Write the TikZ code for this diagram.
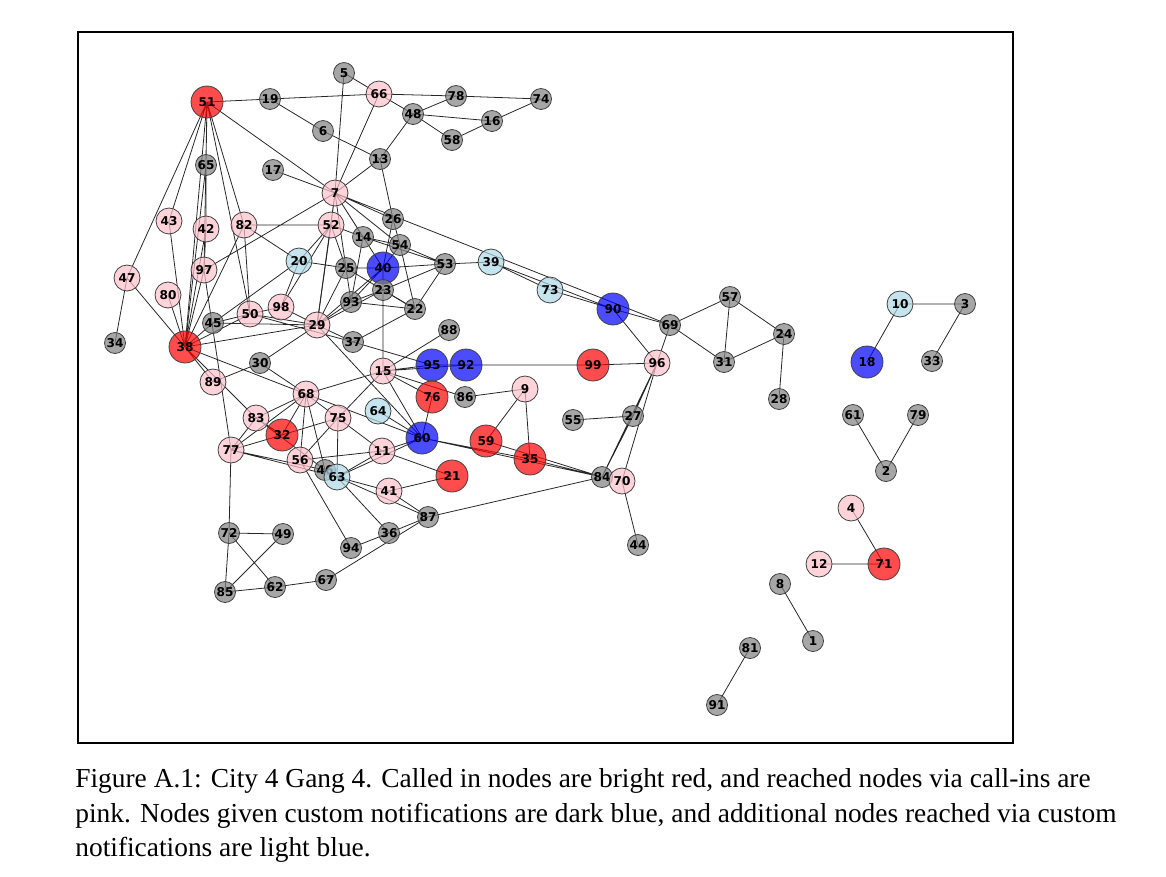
\documentclass[tikz,border=0pt]{standalone}
\usepackage{fontspec}
\setmainfont{Liberation Serif}
\newfontfamily\labfont{DejaVu Sans}
\usetikzlibrary{backgrounds}
\definecolor{grayv}{RGB}{128,128,128}
\definecolor{redv}{RGB}{255,0,0}
\definecolor{pinkv}{RGB}{255,192,203}
\definecolor{bluev}{RGB}{0,0,255}
\definecolor{lbluev}{RGB}{173,216,230}
\tikzset{
  vert/.style={circle,draw=black!75,line width=0.45pt,inner sep=0pt,fill opacity=0.7,text opacity=1,
    font=\labfont\bfseries\fontsize{6.9}{7}\selectfont},
  gv/.style={vert,fill=grayv,minimum size=0.42cm},
  pv/.style={vert,fill=pinkv,minimum size=0.52cm},
  lv/.style={vert,fill=lbluev,minimum size=0.52cm},
  rv/.style={vert,fill=redv,minimum size=0.64cm},
  bv/.style={vert,fill=bluev,minimum size=0.64cm},
  edge/.style={black!85,line width=0.45pt}
}
\begin{document}
\begin{tikzpicture}[x=0.02cm,y=-0.02cm]
\useasboundingbox (0,0) rectangle (1166,876);
\draw[line width=0.8pt] (78,32) rectangle (1013,743);
% vertices
\node[rv] (v51) at (207,102) {51};
\node[gv] (v19) at (270,99) {19};
\node[gv] (v5) at (344,73) {5};
\node[pv] (v66) at (379,94) {66};
\node[gv] (v78) at (456,96) {78};
\node[gv] (v74) at (541,99) {74};
\node[gv] (v48) at (413,114) {48};
\node[gv] (v16) at (492,121) {16};
\node[gv] (v58) at (452,140) {58};
\node[gv] (v6) at (323,131) {6};
\node[gv] (v13) at (380,159) {13};
\node[gv] (v17) at (273,170) {17};
\node[gv] (v65) at (206,165) {65};
\node[pv] (v7) at (335,193) {7};
\node[pv] (v43) at (169,221) {43};
\node[pv] (v42) at (206,229) {42};
\node[pv] (v82) at (244,225) {82};
\node[pv] (v52) at (331,225) {52};
\node[gv] (v26) at (393,219) {26};
\node[gv] (v14) at (363,237) {14};
\node[gv] (v54) at (400,245) {54};
\node[lv] (v20) at (299,261) {20};
\node[gv] (v25) at (346,268) {25};
\node[bv] (v40) at (383,268) {40};
\node[gv] (v53) at (445,264) {53};
\node[lv] (v39) at (491,262) {39};
\node[gv] (v23) at (383,290) {23};
\node[gv] (v93) at (351,302) {93};
\node[gv] (v22) at (415,309) {22};
\node[pv] (v97) at (204,270) {97};
\node[pv] (v47) at (127,278) {47};
\node[pv] (v80) at (168,295) {80};
\node[gv] (v45) at (213,323) {45};
\node[pv] (v50) at (250,314) {50};
\node[pv] (v98) at (281,307) {98};
\node[pv] (v29) at (317,325) {29};
\node[gv] (v37) at (353,342) {37};
\node[gv] (v88) at (449,330) {88};
\node[lv] (v73) at (550,290) {73};
\node[bv] (v90) at (613,309) {90};
\node[gv] (v69) at (670,325) {69};
\node[gv] (v57) at (730,297) {57};
\node[gv] (v24) at (784,334) {24};
\node[gv] (v31) at (724,362) {31};
\node[gv] (v28) at (779,399) {28};
\node[gv] (v34) at (115,343) {34};
\node[rv] (v38) at (185,347) {38};
\node[gv] (v30) at (260,363) {30};
\node[pv] (v89) at (213,382) {89};
\node[pv] (v15) at (383,371) {15};
\node[bv] (v95) at (432,365) {95};
\node[bv] (v92) at (466,365) {92};
\node[rv] (v99) at (593,365) {99};
\node[pv] (v96) at (657,363) {96};
\node[gv] (v86) at (465,397) {86};
\node[rv] (v76) at (432,397) {76};
\node[pv] (v9) at (525,389) {9};
\node[pv] (v68) at (306,394) {68};
\node[pv] (v83) at (256,418) {83};
\node[pv] (v75) at (338,418) {75};
\node[lv] (v64) at (378,411) {64};
\node[rv] (v32) at (282,435) {32};
\node[bv] (v60) at (422,438) {60};
\node[rv] (v59) at (486,441) {59};
\node[gv] (v55) at (573,420) {55};
\node[gv] (v27) at (633,416) {27};
\node[pv] (v77) at (231,450) {77};
\node[pv] (v56) at (300,460) {56};
\node[pv] (v11) at (382,451) {11};
\node[rv] (v35) at (530,459) {35};
\node[gv] (v46) at (325,470) {46};
\node[lv] (v63) at (337,477) {63};
\node[rv] (v21) at (452,476) {21};
\node[gv] (v84) at (602,477) {84};
\node[pv] (v70) at (622,481) {70};
\node[pv] (v41) at (389,491) {41};
\node[gv] (v87) at (428,517) {87};
\node[gv] (v36) at (389,533) {36};
\node[gv] (v94) at (351,548) {94};
\node[gv] (v72) at (229,533) {72};
\node[gv] (v49) at (283,534) {49};
\node[gv] (v44) at (638,545) {44};
\node[gv] (v67) at (326,580) {67};
\node[gv] (v62) at (275,587) {62};
\node[gv] (v85) at (225,592) {85};
\node[lv] (v10) at (900,304) {10};
\node[gv] (v3) at (965,304) {3};
\node[bv] (v18) at (867,362) {18};
\node[gv] (v33) at (932,361) {33};
\node[gv] (v61) at (853,415) {61};
\node[gv] (v79) at (918,415) {79};
\node[gv] (v2) at (886,471) {2};
\node[pv] (v4) at (851,508) {4};
\node[pv] (v12) at (819,564) {12};
\node[rv] (v71) at (884,564) {71};
\node[gv] (v8) at (780,584) {8};
\node[gv] (v1) at (813,641) {1};
\node[gv] (v81) at (750,648) {81};
\node[gv] (v91) at (717,705) {91};
% edges
\begin{pgfonlayer}{background}
\draw[edge] (v51.center)--(v19.center) (v51.center)--(v7.center) (v51.center)--(v65.center) (v51.center)--(v47.center) (v51.center)--(v43.center) (v51.center)--(v38.center) (v51.center)--(v97.center) (v51.center)--(v82.center) (v51.center)--(v50.center);
\draw[edge] (v19.center)--(v66.center) (v19.center)--(v6.center) (v66.center)--(v78.center) (v66.center)--(v5.center) (v66.center)--(v48.center) (v66.center)--(v7.center) (v5.center)--(v7.center);
\draw[edge] (v78.center)--(v74.center) (v78.center)--(v48.center) (v74.center)--(v16.center) (v48.center)--(v16.center) (v48.center)--(v58.center) (v48.center)--(v13.center) (v58.center)--(v16.center);
\draw[edge] (v6.center)--(v13.center) (v13.center)--(v7.center) (v13.center)--(v26.center) (v17.center)--(v7.center);
\draw[edge] (v65.center)--(v42.center) (v65.center)--(v38.center) (v42.center)--(v97.center) (v42.center)--(v38.center) (v43.center)--(v38.center) (v47.center)--(v38.center) (v47.center)--(v34.center) (v80.center)--(v38.center);
\draw[edge] (v97.center)--(v38.center) (v97.center)--(v7.center) (v97.center)--(v77.center) (v82.center)--(v52.center) (v82.center)--(v20.center) (v82.center)--(v38.center) (v82.center)--(v50.center);
\draw[edge] (v7.center)--(v52.center) (v7.center)--(v26.center) (v7.center)--(v14.center) (v7.center)--(v25.center) (v7.center)--(v40.center) (v7.center)--(v29.center) (v7.center)--(v69.center) (v7.center)--(v54.center);
\draw[edge] (v52.center)--(v20.center) (v52.center)--(v98.center) (v52.center)--(v29.center) (v52.center)--(v25.center) (v52.center)--(v14.center);
\draw[edge] (v26.center)--(v54.center) (v26.center)--(v40.center) (v14.center)--(v54.center) (v14.center)--(v53.center) (v14.center)--(v93.center) (v54.center)--(v53.center) (v54.center)--(v22.center) (v54.center)--(v40.center);
\draw[edge] (v20.center)--(v25.center) (v20.center)--(v98.center) (v45.center)--(v20.center) (v25.center)--(v40.center) (v25.center)--(v93.center) (v25.center)--(v29.center) (v25.center)--(v22.center);
\draw[edge] (v40.center)--(v23.center) (v40.center)--(v53.center) (v40.center)--(v93.center) (v29.center)--(v40.center) (v23.center)--(v53.center) (v23.center)--(v22.center) (v23.center)--(v15.center) (v23.center)--(v93.center) (v29.center)--(v23.center);
\draw[edge] (v93.center)--(v22.center) (v29.center)--(v93.center) (v53.center)--(v22.center) (v53.center)--(v39.center) (v39.center)--(v73.center) (v39.center)--(v90.center) (v73.center)--(v90.center);
\draw[edge] (v90.center)--(v69.center) (v90.center)--(v96.center) (v69.center)--(v96.center) (v69.center)--(v57.center) (v69.center)--(v31.center) (v57.center)--(v31.center) (v57.center)--(v24.center) (v31.center)--(v24.center) (v24.center)--(v28.center);
\draw[edge] (v10.center)--(v3.center) (v10.center)--(v18.center) (v3.center)--(v33.center) (v61.center)--(v2.center) (v79.center)--(v2.center) (v4.center)--(v71.center) (v12.center)--(v71.center) (v8.center)--(v1.center) (v81.center)--(v91.center);
\draw[edge] (v45.center)--(v50.center) (v45.center)--(v29.center) (v38.center)--(v45.center) (v50.center)--(v98.center) (v50.center)--(v29.center) (v50.center)--(v37.center) (v38.center)--(v50.center) (v98.center)--(v29.center);
\draw[edge] (v38.center)--(v29.center) (v38.center)--(v68.center) (v38.center)--(v89.center) (v38.center)--(v83.center) (v89.center)--(v30.center) (v30.center)--(v68.center) (v30.center)--(v29.center) (v29.center)--(v37.center) (v29.center)--(v60.center);
\draw[edge] (v37.center)--(v22.center) (v37.center)--(v95.center) (v88.center)--(v15.center) (v15.center)--(v95.center) (v15.center)--(v92.center) (v15.center)--(v76.center) (v15.center)--(v86.center) (v15.center)--(v60.center) (v15.center)--(v75.center) (v15.center)--(v68.center);
\draw[edge] (v95.center)--(v92.center) (v92.center)--(v99.center) (v99.center)--(v96.center) (v86.center)--(v9.center) (v9.center)--(v59.center) (v9.center)--(v35.center) (v96.center)--(v27.center) (v96.center)--(v70.center) (v96.center)--(v84.center) (v27.center)--(v55.center) (v27.center)--(v84.center);
\draw[edge] (v60.center)--(v76.center) (v60.center)--(v11.center) (v60.center)--(v64.center) (v60.center)--(v68.center) (v60.center)--(v63.center) (v60.center)--(v35.center) (v60.center)--(v84.center) (v59.center)--(v84.center) (v35.center)--(v84.center) (v84.center)--(v87.center) (v70.center)--(v44.center);
\draw[edge] (v21.center)--(v11.center) (v21.center)--(v41.center) (v68.center)--(v83.center) (v68.center)--(v75.center) (v68.center)--(v56.center) (v68.center)--(v46.center) (v68.center)--(v32.center) (v68.center)--(v77.center);
\draw[edge] (v83.center)--(v32.center) (v83.center)--(v77.center) (v83.center)--(v46.center) (v32.center)--(v75.center) (v32.center)--(v77.center) (v77.center)--(v72.center) (v77.center)--(v46.center) (v77.center)--(v63.center);
\draw[edge] (v75.center)--(v11.center) (v75.center)--(v63.center) (v75.center)--(v56.center) (v56.center)--(v11.center) (v56.center)--(v94.center) (v63.center)--(v41.center) (v63.center)--(v87.center) (v63.center)--(v36.center) (v63.center)--(v11.center);
\draw[edge] (v41.center)--(v87.center) (v87.center)--(v36.center) (v36.center)--(v94.center) (v67.center)--(v87.center) (v72.center)--(v49.center) (v72.center)--(v62.center) (v72.center)--(v85.center) (v49.center)--(v85.center) (v85.center)--(v62.center) (v62.center)--(v67.center);
\end{pgfonlayer}
% caption
\begin{scope}[font=\fontsize{15.6}{19}\selectfont]
\node[anchor=base west,inner sep=0pt] (cap1) at (75,787) {Figure A.1: City 4 Gang 4. Called in nodes are bright red, and reached nodes via call-ins are};
\node[anchor=base west,inner sep=0pt] (cap2) at (75,822) {pink. Nodes given custom notifications are dark blue, and additional nodes reached via custom};
\node[anchor=base west,inner sep=0pt] (cap3) at (75,856) {notifications are light blue.};
\end{scope}
\end{tikzpicture}
\end{document}
